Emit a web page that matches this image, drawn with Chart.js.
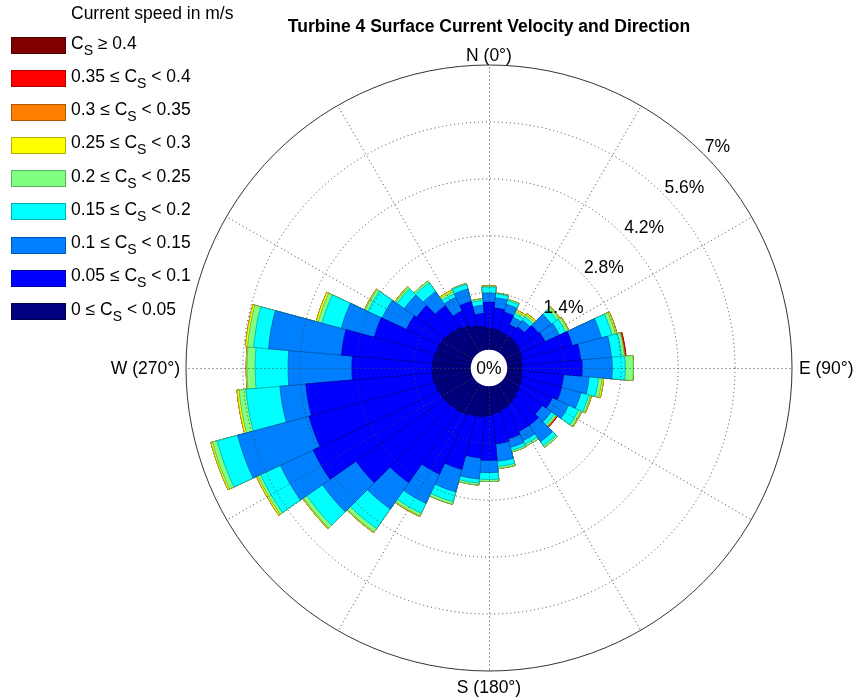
<!DOCTYPE html>
<html>
<head>
<meta charset="utf-8">
<script src="https://cdn.jsdelivr.net/npm/chart.js@4/dist/chart.umd.min.js"></script>
<style>
  body { margin: 0; background: #fff; }
  #wrap { position: relative; width: 856px; height: 698px; overflow: hidden; }
  #c { position: absolute; left: 0; top: 0; }
  .txt { position: absolute; font-family: "Liberation Sans", Arial, sans-serif; font-size: 17.5px; line-height: 17.5px; color: #000; white-space: nowrap; }
  #title { font-weight: bold; left: 489px; top: 18px; transform: translateX(-50%); }
  .box { position: absolute; left: 11px; width: 53px; height: 15px; border: 1px solid; }
  .sub { font-size: 14px; position: relative; top: 6px; }
</style>
</head>
<body>
<div id="wrap">
  <canvas id="c" width="856" height="698" style="width:856px;height:698px"></canvas>
  <div id="title" class="txt">Turbine 4 Surface Current Velocity and Direction</div>
  <div id="legend"></div>
</div>
<script>
// ---------------- data ----------------
const directions = [0,10,20,30,40,50,60,70,80,90,100,110,120,130,140,150,160,170,180,190,200,210,220,230,240,250,260,270,280,290,300,310,320,330,340,350];
const ringTicks = [1.4, 2.8, 4.2, 5.6, 7];
const spokeAngles = [0,30,60,90,120,150,180,210,240,270,300,330];
const compassLabels = ['N (0°)', 'E (90°)', 'S (180°)', 'W (270°)'];
const binEdges = [0, 0.05, 0.1, 0.15, 0.2, 0.25, 0.3, 0.35, 0.4];
const legendTitle = 'Current speed in m/s';

// frequency (%) per direction (0°..350°) for each speed bin
const cs_000_005 = [.53,.51,.48,.46,.46,.44,.41,.39,.36,.36,.36,.39,.41,.46,.51,.56,.61,.66,.71,.76,.78,.83,.85,.88,.90,.93,.95,.95,.93,.90,.88,.83,.78,.71,.63,.58];
const cs_005_010 = [.64,.52,.49,.27,.32,.59,.66,1.28,1.45,1.48,1.03,1.01,.86,.69,.76,.71,.74,.76,1.11,1.01,1.35,1.60,2.14,2.66,3.42,3.20,3.12,1.97,2.26,1.57,.91,.89,.64,.39,.61,.32];
const cs_010_015 = [.22,.25,.20,.20,.20,.39,.39,.74,.76,.74,.63,.49,.44,.27,.49,.25,.22,.43,.30,.52,.57,.79,.79,1.01,.89,1.82,.64,1.57,1.80,.84,.66,.37,.42,.37,.32,.20];
const cs_015_020 = [.15,.10,.10,.10,.10,.17,.17,.27,.25,.32,.23,.20,.27,.10,.12,.10,.08,.13,.17,.10,.25,.27,.59,.47,.54,.52,.84,.81,.37,.49,.39,.22,.27,.10,.12,.12];
const cs_020_025 = [.02,.02,.03,.06,.06,.07,.07,.09,.07,.20,.09,.05,.07,.05,.05,.05,.04,.05,.05,.05,.07,.07,.10,.10,.07,.12,.17,.20,.15,.10,.07,.05,.05,.06,.02,.04];
const cs_025_030 = [.01,0,0,.04,.04,.02,.02,.04,0,0,.04,.02,.02,.01,0,0,0,0,0,0,0,.02,.02,.02,.04,.04,.05,.02,.05,.05,.02,.02,0,.04,0,0];
const cs_030_035 = [0,0,0,0,0,0,0,0,.01,0,0,0,0,.01,0,0,0,0,0,0,0,0,0,0,0,0,0,0,0,0,0,0,0,0,0,0];
const cs_035_040 = [0,0,0,0,0,0,0,0,.03,0,0,0,0,.02,0,0,0,0,0,0,0,0,0,0,0,0,0,0,0,0,0,0,0,0,0,0];
const cs_ge_040  = [0,0,0,0,0,0,0,0,0,0,0,0,0,0,0,0,0,0,0,0,0,0,0,0,0,0,0,0,0,0,0,0,0,0,0,0];

const series = [cs_000_005, cs_005_010, cs_010_015, cs_015_020, cs_020_025, cs_025_030, cs_030_035, cs_035_040, cs_ge_040];
const binColors = ['#000080','#0000ff','#0080ff','#00ffff','#80ff80','#ffff00','#ff8000','#ff0000','#800000'];
const binBorders = ['#000050','#0000a8','#0058b0','#00b0b0','#58b058','#b0b000','#b05800','#b00000','#500000'];

// ---------------- legend (HTML, with subscripts) ----------------
function binLabelHTML(i) {
  const cs = 'C<span class="sub">S</span>';
  if (i === binEdges.length - 1) return cs + ' \u2265 ' + binEdges[i];
  return binEdges[i] + ' \u2264 ' + cs + ' &lt; ' + binEdges[i + 1];
}
(function buildLegend() {
  const lg = document.getElementById('legend');
  let html = '<div class="txt" style="left:71px;top:5px">' + legendTitle + '</div>';
  const n = binEdges.length;
  for (let k = 0; k < n; k++) {
    const i = n - 1 - k;           // top row = highest speed
    const top = 37 + k * 33.25;
    html += '<div class="box" style="top:' + top + 'px;background:' + binColors[i] + ';border-color:' + binBorders[i] + '"></div>';
    html += '<div class="txt" style="left:71px;top:' + (top - 2.3) + 'px">' + binLabelHTML(i) + '</div>';
  }
  lg.innerHTML = html;
})();

// ---------------- cumulative stacks for the rose ----------------
let cum = directions.map(() => 0);
const datasets = series.map((vals, i) => {
  cum = cum.map((c, j) => c + vals[j]);
  return {
    label: 'bin' + i,
    data: cum.slice(),
    backgroundColor: binColors[i],
    borderColor: binBorders[i],
    borderWidth: 0.8
  };
});

const FONT = '17.5px "Liberation Sans", Arial, sans-serif';

const roseDecor = {
  id: 'roseDecor',
  afterDatasetsDraw(chart) {
    const s = chart.scales.r, ctx = chart.ctx;
    const cx = s.xCenter, cy = s.yCenter;
    const R = s.getDistanceFromCenterForValue(ringTicks[ringTicks.length - 1]);
    ctx.save();
    ctx.lineWidth = 1;
    ctx.strokeStyle = '#444';
    ctx.setLineDash([1, 3]);
    ringTicks.slice(0, -1).forEach(v => {
      const r = s.getDistanceFromCenterForValue(v);
      ctx.beginPath(); ctx.arc(cx, cy, r, 0, 2 * Math.PI); ctx.stroke();
    });
    spokeAngles.forEach(a => {
      const t = (a - 90) * Math.PI / 180;
      ctx.beginPath();
      ctx.moveTo(cx + 0.5, cy + 0.5);
      ctx.lineTo(cx + 0.5 + R * Math.cos(t), cy + 0.5 + R * Math.sin(t));
      ctx.stroke();
    });
    ctx.setLineDash([]);
    ctx.strokeStyle = '#333';
    ctx.beginPath(); ctx.arc(cx, cy, R, 0, 2 * Math.PI); ctx.stroke();

    // centre hole
    const r0 = s.getDistanceFromCenterForValue(0);
    ctx.fillStyle = '#fff';
    ctx.beginPath(); ctx.arc(cx, cy, r0, 0, 2 * Math.PI); ctx.fill();
    ctx.fillStyle = '#000';
    ctx.font = FONT;
    ctx.textAlign = 'center'; ctx.textBaseline = 'middle';
    ctx.fillText('0%', cx, cy + 1);

    // radial tick labels along 45 deg
    ctx.textAlign = 'left'; ctx.textBaseline = 'alphabetic';
    ringTicks.forEach(v => {
      const r = s.getDistanceFromCenterForValue(v) + 2;
      ctx.fillText(v + '%', cx + r * Math.SQRT1_2, cy - r * Math.SQRT1_2);
    });

    // compass labels
    ctx.textAlign = 'center';
    ctx.fillText(compassLabels[0], cx, cy - R - 4);
    ctx.fillText(compassLabels[2], cx, cy + R + 22);
    ctx.textAlign = 'left';
    ctx.fillText(compassLabels[1], cx + R + 7, cy + 6);
    ctx.textAlign = 'right';
    ctx.fillText(compassLabels[3], cx - R - 6, cy + 6);
    ctx.restore();
  }
};

new Chart(document.getElementById('c'), {
  type: 'polarArea',
  data: { labels: directions.map(d => d + '°'), datasets },
  options: {
    responsive: false,
    animation: false,
    layout: { padding: { left: 186, right: 64, top: 65, bottom: 27 } },
    plugins: { legend: { display: false }, tooltip: { enabled: false }, title: { display: false } },
    scales: {
      r: {
        min: -0.45,
        max: 7,
        startAngle: -5,
        ticks: { display: false },
        grid: { display: false },
        angleLines: { display: false },
        pointLabels: { display: false }
      }
    }
  },
  plugins: [roseDecor]
});
</script>
</body>
</html>
